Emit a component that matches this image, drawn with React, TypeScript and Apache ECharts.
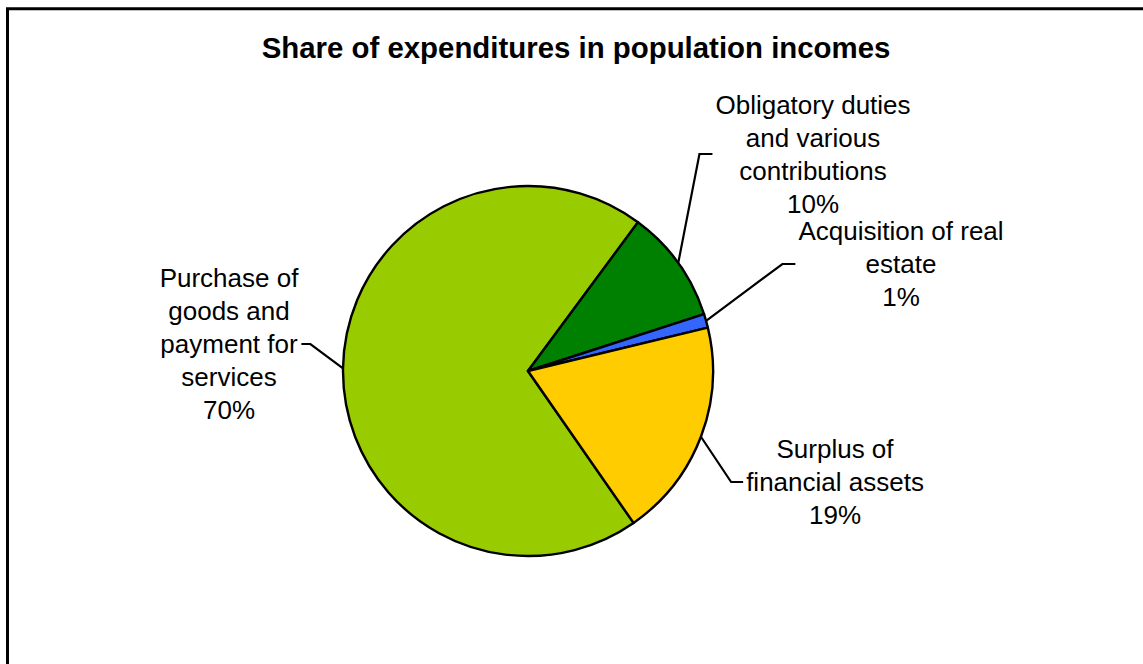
import React, { useEffect, useRef } from "react";
import * as echarts from "echarts";

const categories = [
  "Purchase of\ngoods and\npayment for\nservices",
  "Obligatory duties\nand various\ncontributions",
  "Acquisition of real\nestate",
  "Surplus of\nfinancial assets",
];
const values = [69.8, 9.9, 1.2, 19.1];
const colors = ["#99CC00", "#008000", "#3366FF", "#FFCC00"];
const titleText = "Share of expenditures in population incomes";

const FONT = "'Liberation Sans', Arial, sans-serif";

export default function App() {
  const ref = useRef<HTMLDivElement>(null);

  useEffect(() => {
    if (!ref.current) return;
    const chart = echarts.init(ref.current, undefined, { renderer: "svg" });

    // label placement: centre of text block, side of leader line, horizontal leader length
    const labelPlacement = [
      { x: 229, y: 344, side: "right", len: 9 },
      { x: 813, y: 154, side: "left", len: 13 },
      { x: 901, y: 264, side: "left", len: 13 },
      { x: 835, y: 482, side: "left", len: 12 },
    ];

    chart.setOption({
      animation: false,
      backgroundColor: "#ffffff",
      graphic: [
        {
          type: "rect",
          shape: { x: 7.5, y: 8.7, width: 1160, height: 700 },
          style: { fill: "none", stroke: "#000000", lineWidth: 3 },
          silent: true,
        },
        {
          type: "text",
          x: 576,
          y: 47,
          style: {
            text: titleText,
            fontFamily: FONT,
            fontWeight: "bold",
            fontSize: 29.4,
            fill: "#000000",
            align: "center",
            verticalAlign: "middle",
          },
          silent: true,
        },
      ],
      series: [
        {
          type: "pie",
          center: [528, 371],
          radius: 185,
          startAngle: 304.8,
          clockwise: true,
          avoidLabelOverlap: false,
          silent: true,
          itemStyle: { borderColor: "#000000", borderWidth: 2.4 },
          emphasis: { disabled: true },
          label: {
            show: true,
            position: "outside",
            alignTo: "none",
            color: "#000000",
            fontFamily: FONT,
            fontSize: 26,
            lineHeight: 33,
            formatter: (p: any) => `${p.name}\n${Math.round(p.percent)}%`,
          },
          labelLine: {
            show: true,
            length: 20,
            length2: 10,
            lineStyle: { color: "#000000", width: 2.2 },
          },
          labelLayout: (params: any) => {
            const p = labelPlacement[params.dataIndex];
            const w = params.labelRect.width;
            const gap = 3;
            const ax = p.side === "left" ? p.x - w / 2 - gap : p.x + w / 2 + gap;
            const ex = p.side === "left" ? ax - p.len : ax + p.len;
            const start =
              params.labelLinePoints && params.labelLinePoints[0]
                ? params.labelLinePoints[0]
                : [ax, p.y];
            return {
              x: p.x,
              y: p.y,
              align: "center",
              verticalAlign: "middle",
              labelLinePoints: [start, [ex, p.y], [ax, p.y]],
            };
          },
          data: categories.map((name, i) => ({
            name,
            value: values[i],
            itemStyle: { color: colors[i] },
          })),
        },
      ],
    });

    return () => chart.dispose();
  }, []);

  return (
    <div
      ref={ref}
      style={{ position: "absolute", left: 0, top: 0, width: 1143, height: 664 }}
    />
  );
}
